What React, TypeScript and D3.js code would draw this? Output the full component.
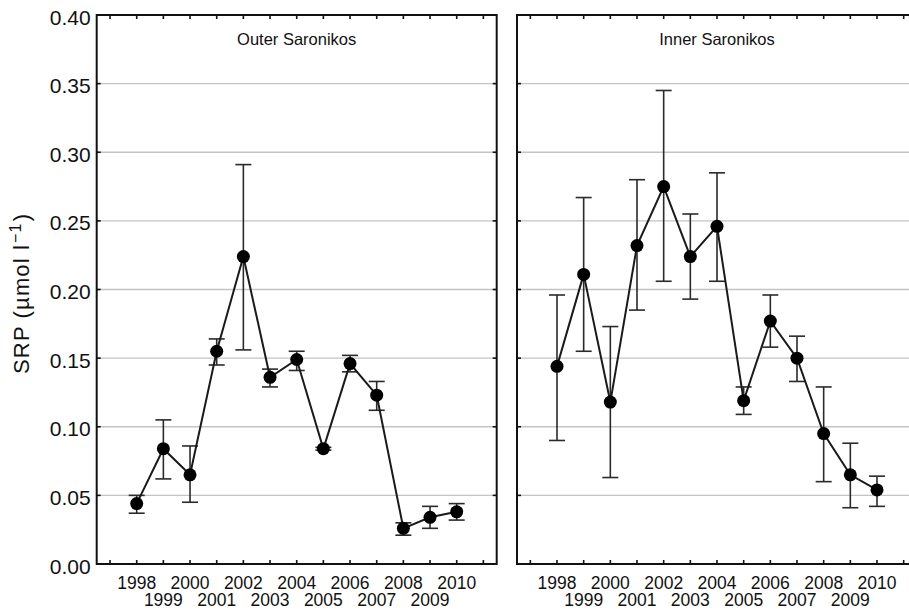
import React from "react";
import * as d3 from "d3";

const years = [1998, 1999, 2000, 2001, 2002, 2003, 2004, 2005, 2006, 2007, 2008, 2009, 2010];
const axisYears = [1997, 1998, 1999, 2000, 2001, 2002, 2003, 2004, 2005, 2006, 2007, 2008, 2009, 2010, 2011];
const yTicks = [0, 0.05, 0.1, 0.15, 0.2, 0.25, 0.3, 0.35, 0.4];
const gridTicks = [0.05, 0.1, 0.15, 0.2, 0.25, 0.3, 0.35];

const outerMean = [0.044, 0.084, 0.065, 0.155, 0.224, 0.136, 0.149, 0.084, 0.146, 0.123, 0.026, 0.034, 0.038];
const outerLow = [0.037, 0.062, 0.045, 0.145, 0.156, 0.129, 0.141, 0.083, 0.140, 0.112, 0.021, 0.026, 0.032];
const outerHigh = [0.050, 0.105, 0.086, 0.164, 0.291, 0.142, 0.155, 0.085, 0.152, 0.133, 0.030, 0.042, 0.044];

const innerMean = [0.144, 0.211, 0.118, 0.232, 0.275, 0.224, 0.246, 0.119, 0.177, 0.150, 0.095, 0.065, 0.054];
const innerLow = [0.090, 0.155, 0.063, 0.185, 0.206, 0.193, 0.206, 0.109, 0.158, 0.133, 0.060, 0.041, 0.042];
const innerHigh = [0.196, 0.267, 0.173, 0.280, 0.345, 0.255, 0.285, 0.129, 0.196, 0.166, 0.129, 0.088, 0.064];

const panels = [
  { title: "Outer Saronikos", mean: outerMean, low: outerLow, high: outerHigh, left: 96.7 },
  { title: "Inner Saronikos", mean: innerMean, low: innerLow, high: innerHigh, left: 517 },
];

const FONT = "'Liberation Sans', Arial, Helvetica, sans-serif";
const TOP = 15;
const PW = 400;
const PH = 549;

function Panel({ p, showY }: { p: any; showY: boolean }) {
  const x = d3.scaleLinear().domain([1996.5, 2011.5]).range([0, PW]);
  const y = d3.scaleLinear().domain([0, 0.4]).range([PH, 0]);
  const pts = years.map((yr, i) => [x(yr), y(p.mean[i])] as [number, number]);
  const line = d3.line()(pts) || "";
  const cap = 8;
  const tl = 4;
  return (
    <g transform={`translate(${p.left},${TOP})`}>
      {gridTicks.map((t) => (
        <line key={"g" + t} x1={0} x2={PW} y1={y(t)} y2={y(t)} stroke="#c4c4c4" strokeWidth={1.3} />
      ))}
      {yTicks.map((t) => (
        <g key={"yt" + t}>
          <line x1={0} x2={tl} y1={y(t)} y2={y(t)} stroke="#111" strokeWidth={1.6} />
          <line x1={PW - tl} x2={PW} y1={y(t)} y2={y(t)} stroke="#111" strokeWidth={1.6} />
        </g>
      ))}
      {axisYears.map((yr) => (
        <g key={"xt" + yr}>
          <line x1={x(yr)} x2={x(yr)} y1={PH} y2={PH - tl} stroke="#111" strokeWidth={1.6} />
          <line x1={x(yr)} x2={x(yr)} y1={0} y2={tl} stroke="#111" strokeWidth={1.6} />
        </g>
      ))}
      {showY &&
        yTicks.map((t) => (
          <text key={"yl" + t} x={-6} y={y(t) + 9.5} textAnchor="end" fontSize={21} fontFamily={FONT} fill="#111">
            {t.toFixed(2)}
          </text>
        ))}
      {years.map((yr, i) => (
        <text
          key={"xl" + yr}
          x={x(yr)}
          y={i % 2 === 0 ? PH + 25 : PH + 42}
          textAnchor="middle"
          fontSize={17.5}
          fontFamily={FONT}
          fill="#111"
        >
          {yr}
        </text>
      ))}
      <text x={PW / 2} y={30} textAnchor="middle" fontSize={16.5} fontFamily={FONT} fill="#111">
        {p.title}
      </text>
      {years.map((yr, i) => (
        <g key={"e" + yr} stroke="#2a2a2a" strokeWidth={1.6}>
          <line x1={x(yr)} x2={x(yr)} y1={y(p.low[i])} y2={y(p.high[i])} />
          <line x1={x(yr) - cap} x2={x(yr) + cap} y1={y(p.low[i])} y2={y(p.low[i])} />
          <line x1={x(yr) - cap} x2={x(yr) + cap} y1={y(p.high[i])} y2={y(p.high[i])} />
        </g>
      ))}
      <path d={line} fill="none" stroke="#1a1a1a" strokeWidth={2} />
      {pts.map((pt, i) => (
        <circle key={"c" + i} cx={pt[0]} cy={pt[1]} r={6.5} fill="#000" />
      ))}
      <rect x={0} y={0} width={PW} height={PH} fill="none" stroke="#111" strokeWidth={2} />
    </g>
  );
}

export default function App() {
  return (
    <svg
      width={909}
      height={610}
      style={{ position: "absolute", left: 0, top: 0, display: "block", background: "#fff" }}
    >
      <rect x={0} y={0} width={909} height={610} fill="#fff" />
      {panels.map((p, i) => (
        <Panel key={p.title} p={p} showY={i === 0} />
      ))}
      <text
        transform="translate(29,294) rotate(-90)"
        textAnchor="middle"
        fontSize={22}
        fontFamily={FONT}
        fill="#111"
        textLength={160}
        lengthAdjust="spacing"
      >
        SRP (µmol l
        <tspan dx={1} dy={-8} fontSize={16}>−1</tspan>
        <tspan dx={1} dy={8}>)</tspan>
      </text>
    </svg>
  );
}
